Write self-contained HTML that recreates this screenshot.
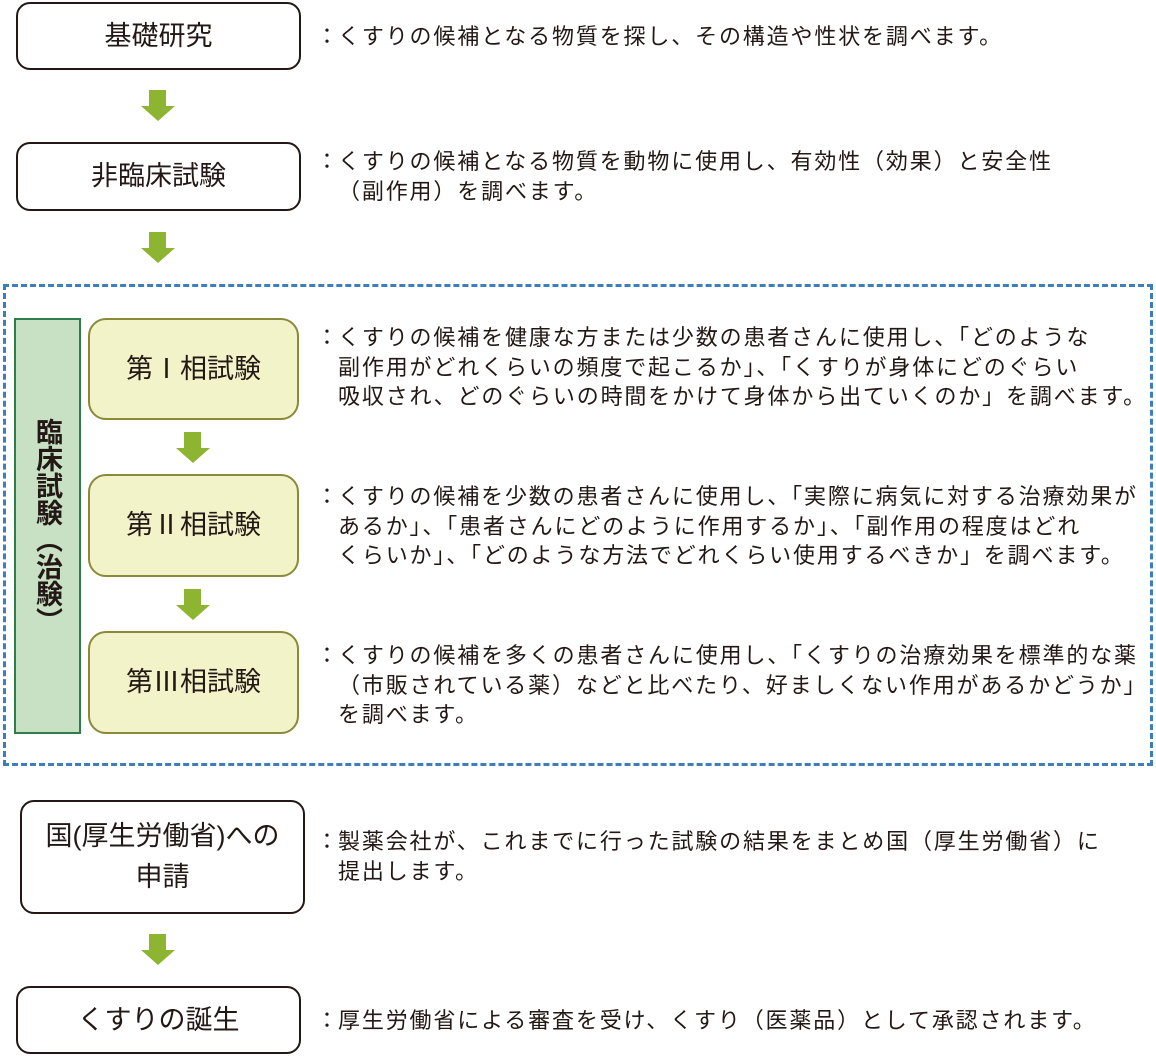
<!DOCTYPE html>
<html><head><meta charset="utf-8"><style>
body{margin:0;width:1156px;height:1056px;background:#fff;position:relative;overflow:hidden;font-family:"Liberation Sans","Noto Sans CJK JP",sans-serif;color:#231815}
.box{position:absolute;box-sizing:border-box;border:2px solid #231815;border-radius:14px;background:#fff;display:flex;align-items:center;justify-content:center;text-align:center;font-size:27px;line-height:41px}
.ph{border:2px solid #8a8a3a;background:#f2f3c9;border-radius:18px}
.arr{position:absolute;width:34px;height:31px}
.t{position:absolute;font-size:22px;line-height:29.5px;white-space:nowrap;padding-left:16px;letter-spacing:1.85px}
.t::before{content:"：";position:absolute;left:-6px;top:0;letter-spacing:0}
</style></head><body>
<div class="box" style="left:16px;top:2px;width:285px;height:68px">基礎研究</div>
<div class="box" style="left:16px;top:142px;width:285px;height:69px">非臨床試験</div>
<div style="position:absolute;left:3px;top:284px;width:1150px;height:482px;border:3px dashed #3d7ebf;box-sizing:border-box"></div>
<div style="position:absolute;left:14px;top:318px;width:67px;height:416px;background:#c8e0c3;border:2px solid #2e7d4a;box-sizing:border-box"></div>
<div style="position:absolute;left:32px;top:418px;width:30px;writing-mode:vertical-rl;font-size:27px;line-height:30px;font-weight:bold;letter-spacing:0px">臨床試験（治験）</div>
<div class="box ph" style="left:88px;top:318px;width:211px;height:102px">第Ⅰ相試験</div>
<div class="box ph" style="left:88px;top:474px;width:211px;height:103px">第Ⅱ相試験</div>
<div class="box ph" style="left:88px;top:631px;width:211px;height:103px">第Ⅲ相試験</div>
<div class="box" style="left:20px;top:800px;width:285px;height:114px">国(厚生労働省)への<br>申請</div>
<div class="box" style="left:16px;top:986px;width:285px;height:68px">くすりの誕生</div>
<svg class="arr" style="left:141px;top:90px" viewBox="0 0 34 31"><path d="M8 0H25V16H34L17 31L0 16H8Z" fill="#8db532"/></svg>
<svg class="arr" style="left:141px;top:232px" viewBox="0 0 34 31"><path d="M8 0H25V16H34L17 31L0 16H8Z" fill="#8db532"/></svg>
<svg class="arr" style="left:176px;top:432px" viewBox="0 0 34 31"><path d="M8 0H25V16H34L17 31L0 16H8Z" fill="#8db532"/></svg>
<svg class="arr" style="left:176px;top:589px" viewBox="0 0 34 31"><path d="M8 0H25V16H34L17 31L0 16H8Z" fill="#8db532"/></svg>
<svg class="arr" style="left:141px;top:934px" viewBox="0 0 34 31"><path d="M8 0H25V16H34L17 31L0 16H8Z" fill="#8db532"/></svg>
<div class="t" style="left:322px;top:22px">くすりの候補となる物質を探し、その構造や性状を調べます。</div>
<div class="t" style="left:322px;top:147px">くすりの候補となる物質を動物に使用し、有効性（効果）と安全性<br>（副作用）を調べます。</div>
<div class="t" style="left:322px;top:323px">くすりの候補を健康な方または少数の患者さんに使用し、「どのような<br>副作用がどれくらいの頻度で起こるか」、「くすりが身体にどのぐらい<br>吸収され、どのぐらいの時間をかけて身体から出ていくのか」を調べます。</div>
<div class="t" style="left:322px;top:482px">くすりの候補を少数の患者さんに使用し、「実際に病気に対する治療効果が<br>あるか」、「患者さんにどのように作用するか」、「副作用の程度はどれ<br>くらいか」、「どのような方法でどれくらい使用するべきか」を調べます。</div>
<div class="t" style="left:322px;top:641px">くすりの候補を多くの患者さんに使用し、「くすりの治療効果を標準的な薬<br>（市販されている薬）などと比べたり、好ましくない作用があるかどうか」<br>を調べます。</div>
<div class="t" style="left:322px;top:827px">製薬会社が、これまでに行った試験の結果をまとめ国（厚生労働省）に<br>提出します。</div>
<div class="t" style="left:322px;top:1006px">厚生労働省による審査を受け、くすり（医薬品）として承認されます。</div>
</body></html>
